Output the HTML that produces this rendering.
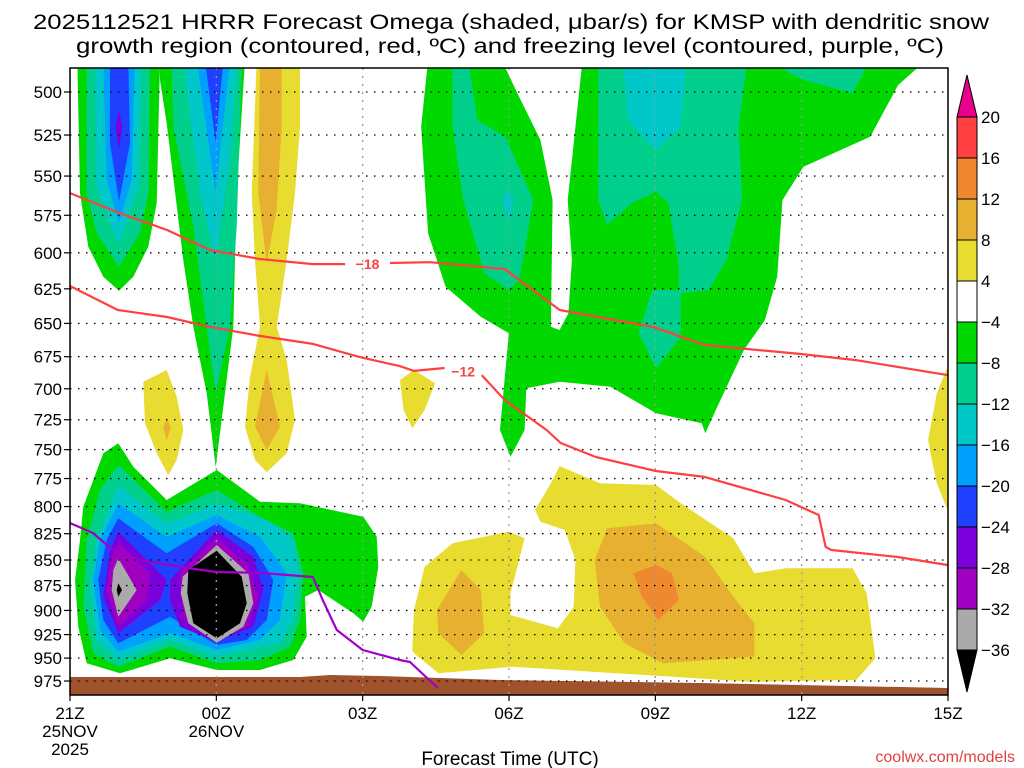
<!DOCTYPE html>
<html><head><meta charset="utf-8"><style>
html,body{margin:0;padding:0;background:#fff;}
svg{display:block;font-family:"Liberation Sans",sans-serif;}
</style></head><body>
<svg id="chart" width="1024" height="768" viewBox="0 0 1024 768" xmlns="http://www.w3.org/2000/svg">
<defs><clipPath id="plotclip"><rect x="70" y="68" width="878" height="627"/></clipPath></defs>
<g font-size="21" fill="#000">
<text x="511" y="29" text-anchor="middle" textLength="956" lengthAdjust="spacingAndGlyphs">2025112521 HRRR Forecast Omega (shaded, μbar/s) for KMSP with dendritic snow</text>
<text x="510" y="53" text-anchor="middle" textLength="868" lengthAdjust="spacingAndGlyphs">growth region (contoured, red, ºC) and freezing level (contoured, purple, ºC)</text>
</g>
<g id="fills" clip-path="url(#plotclip)"></g>
<g id="grid"></g>
<g id="lines" clip-path="url(#plotclip)"></g>
<rect x="70" y="68" width="878" height="627" fill="none" stroke="#000" stroke-width="1.5"/>
<g id="yaxis" font-size="17"></g>
<g id="xaxis" font-size="17"></g>
<text x="510" y="765" text-anchor="middle" font-size="19">Forecast Time (UTC)</text>
<text x="1015" y="762" text-anchor="end" font-size="16" fill="#e04040">coolwx.com/models</text>
<g id="cbar" font-size="17"></g>
</svg>
<script>
// ---- data ----
const pressureTicks=[500,525,550,575,600,625,650,675,700,725,750,775,800,825,850,875,900,925,950,975];
const timeTickHours=[0,3,6,9,12,15,18];
const timeTickLabels=["21Z","00Z","03Z","06Z","09Z","12Z","15Z"];
const cbarLevels=["20","16","12","8","4","−4","−8","−12","−16","−20","−24","−28","−32","−36"];
const cbarColors=["#ff4040","#f08830","#e8b030","#e8dc30","#ffffff","#00d800","#00d08c","#00c8c8","#00a0ff","#2040ff","#7a00dc","#a000c0","#aaaaaa"];
// -18C isotherm (hours from 21Z, hPa)
const upperHours=[0,0.96,1.99,2.87,3.89,4.98,5.64];
const upperPres=[560.7,572.9,584.7,598.1,604.2,607.7,607.7];
const upperHours2=[6.56,7.38,8.91,10.04,11.95,13.01,14.96,16.11,17.99];
const upperPres2=[607.0,606.4,611.1,640.2,652.6,666.1,672.9,677.6,689.2];
// -12C isotherm
const lowerHours=[0,0.98,1.99,2.87,3.89,4.98,5.94,6.76,7.05,7.68];
const lowerPres=[623.0,640.2,645.3,652.6,659.3,665.3,675.3,682.2,686.0,683.7];
const lowerHours2=[8.44,8.91,9.77,10.06,10.78,12.01,13.01,14.67,15.35,15.49,15.61,16.97,17.99];
const lowerPres2=[689.2,708.9,733.5,744.4,756.3,768.4,773.6,794.1,807.7,837.5,840.4,847.1,854.8];
// freezing level
const frzHours=[0,0.47,0.88,1.43,2.40,3.01,3.89,4.98,5.18,5.47,6.0,6.76,6.97,7.54];
const frzPres=[815.1,824.4,840.4,849.9,857.7,861.6,862.4,866.5,889.4,920.2,941.3,952.0,954.2,982.8];

// ---- axes ----
const X=h=>70+h*878/18;
const Y=p=>92+882*Math.log(p/500);
const NS="http://www.w3.org/2000/svg";
function mk(tag,attrs,parent){const e=document.createElementNS(NS,tag);for(const k in attrs)e.setAttribute(k,attrs[k]);parent.appendChild(e);return e;}

// ---- shading polygons (screen-space contour fills) ----
const fills=document.getElementById('fills');
const Z3=p=>[60+p[0]/3,60+p[1]/3];
const Z4=p=>[400+p[0]/2.85,60+p[1]/3];
const Z5=p=>[400+p[0]/2.85,450+p[1]/3];
function poly(pts,conv,color,name){
  const s=pts.map(p=>conv(p).map(v=>v.toFixed(1)).join(',')).join(' ');
  const e=mk('polygon',{points:s,fill:color},fills);
  
  
}
const G="#00d800",TG="#00d08c",T="#00c8c8",LB="#00a0ff",B="#2040ff",V="#7a00dc",P="#a000c0",GR="#aaaaaa",K="#000",YL="#e8dc30",OR="#e8b030",RO="#f08830";
// top-left column
poly([[52,0],[300,0],[290,430],[265,560],[220,650],[177,692],[130,650],[85,560],[60,400]],Z3,G,'omega-upper-left-green');
poly([[80,0],[270,0],[265,400],[240,520],[177,620],[110,520],[80,400]],Z3,TG,'omega-upper-left-tealgreen');
poly([[105,0],[245,0],[235,380],[177,555],[110,380]],Z3,T,'omega-upper-left-teal');
poly([[130,0],[225,0],[215,360],[177,490],[140,360]],Z3,LB,'omega-upper-left-lightblue');
poly([[150,0],[205,0],[210,250],[177,425],[150,250]],Z3,B,'omega-upper-left-blue');
poly([[177,150],[187,200],[177,270],[167,200]],Z3,V,'omega-upper-left-violet');
// 00Z column
poly([[298,0],[555,0],[530,400],[520,800],[467,1222],[440,1000],[400,800],[370,600],[320,190],[300,60]],Z3,G,'omega-00z-green');
poly([[335,0],[545,0],[530,500],[510,800],[467,1000],[440,800],[400,500],[340,200]],Z3,TG,'omega-00z-tealgreen');
poly([[370,0],[530,0],[510,300],[467,600],[420,400]],Z3,T,'omega-00z-teal');
poly([[410,0],[510,0],[467,400]],Z3,LB,'omega-00z-lightblue');
poly([[435,0],[490,0],[467,250]],Z3,B,'omega-00z-blue');
// 01Z positive column
poly([[590,0],[720,0],[720,200],[705,400],[680,600],[650,800],[680,900],[705,1080],[680,1180],[620,1237],[585,1200],[555,1100],[570,950],[600,800],[585,600],[575,400]],Z3,YL,'omega-01z-yellow');
poly([[600,0],[665,0],[665,200],[650,450],[620,610],[595,400]],Z3,OR,'omega-01z-orange-upper');
poly([[620,930],[660,1100],[620,1170],[585,1100]],Z3,OR,'omega-01z-orange-lower');
poly([[250,965],[320,930],[350,1010],[370,1110],[350,1200],[325,1245],[290,1180],[255,1090]],Z3,YL,'omega-2230z-yellow');
poly([[320,1070],[332,1105],[320,1140],[310,1105]],Z3,OR,'omega-2230z-orange');
// bottom-left intense cluster (zoom offset 60,440)
const Z2=p=>[60+p[0]/3,440+p[1]/3];
poly([[60,300],[70,200],[130,40],[175,10],[220,80],[320,180],[470,90],[600,185],[720,190],[910,230],[950,290],[955,380],[935,500],[910,545],[880,520],[775,450],[735,470],[740,590],[700,660],[600,690],[470,690],[330,655],[180,700],[80,670],[55,560],[45,420]],Z2,G,'omega-lowlevel-green');
poly([[80,300],[120,150],[175,75],[320,215],[470,150],[600,230],[700,280],[730,400],[720,540],[690,620],[600,660],[470,670],[330,620],[175,680],[100,640],[70,500]],Z2,TG,'omega-lowlevel-tealgreen');
poly([[110,300],[175,135],[320,250],[470,190],[620,240],[700,300],[715,400],[700,540],[660,610],[470,650],[330,600],[175,660],[110,600],[90,450]],Z2,T,'omega-lowlevel-teal');
poly([[120,300],[175,190],[320,290],[470,225],[600,290],[680,400],[660,540],[600,600],[470,630],[330,580],[175,635],[120,570],[100,420]],Z2,LB,'omega-lowlevel-lightblue');
poly([[140,300],[175,235],[320,340],[470,250],[580,320],[640,420],[620,540],[560,600],[470,615],[330,530],[175,610],[130,540],[115,420]],Z2,B,'omega-lowlevel-blue');
poly([[150,330],[175,275],[320,420],[300,480],[175,580],[130,470]],Z2,V,'omega-left-violet');
poly([[330,420],[470,270],[580,350],[610,450],[580,560],[470,605],[360,560],[330,480]],Z2,V,'omega-right-violet');
poly([[155,350],[175,310],[270,400],[260,480],[175,560],[140,450]],Z2,P,'omega-left-purple');
poly([[360,400],[470,295],[560,370],[595,470],[560,560],[470,600],[370,540]],Z2,P,'omega-right-purple');
poly([[160,390],[175,355],[230,450],[175,530],[155,450]],Z2,GR,'omega-left-gray');
poly([[368,410],[470,315],[565,400],[580,490],[550,560],[470,608],[385,550],[362,460]],Z2,GR,'omega-right-gray');
poly([[175,430],[186,450],[175,470],[170,450]],Z2,K,'omega-left-black');
poly([[385,390],[470,332],[545,410],[560,490],[540,550],[470,595],[400,550],[382,460]],Z2,K,'omega-right-black');
// mid/upper green region around 03Z-12Z
poly([[80,30],[290,30],[330,90],[400,240],[435,420],[430,800],[455,810],[480,760],[490,600],[478,420],[520,30],[1500,30],[1420,75],[1340,230],[1150,320],[1090,420],[1075,650],[1040,780],[980,870],[900,1050],[870,1120],[860,1090],[730,1060],[600,980],[455,965],[360,985],[355,1110],[315,1190],[285,1110],[310,820],[230,770],[130,680],[80,520],[60,200]].map(p=>p[1]===30?[p[0],0]:p),Z4,G,'omega-mid-green');
poly([[150,0],[195,0],[220,180],[300,230],[380,420],[340,660],[310,690],[240,640],[180,420],[150,200]],Z4,TG,'omega-mid-tealgreen-a');
poly([[565,0],[990,0],[965,200],[975,420],[930,600],[880,690],[800,700],[800,830],[730,925],[680,820],[720,690],[795,690],[795,620],[765,430],[730,395],[660,430],[590,495],[565,420]],Z4,TG,'omega-mid-tealgreen-b');
poly([[1040,0],[1340,0],[1290,100],[1150,60]],Z4,TG,'omega-mid-tealgreen-c');
poly([[635,0],[815,0],[800,200],[730,270],[650,180]],Z4,T,'omega-mid-teal');
poly([[290,420],[310,390],[325,420],[310,480]],Z4,T,'omega-mid-teal-small');
poly([[0,960],[40,930],[100,970],[70,1050],[35,1105],[10,1050]],Z4,YL,'omega-04z-yellow');
poly([[1568,900],[1568,1300],[1530,1260],[1505,1140],[1530,1000]],Z4,YL,'omega-15z-yellow-a');
poly([[1568,0],[1568,200],[1530,100],[1510,0]],Z5,YL,'omega-15z-yellow-b');
// low-level positive omega
poly([[35,600],[40,480],[70,350],[150,280],[310,245],[355,265],[315,430],[315,495],[450,535],[495,470],[500,330],[470,240],[400,215],[385,180],[430,100],[455,48],[570,100],[730,105],[800,160],[950,265],[1010,370],[1100,355],[1290,355],[1330,430],[1355,625],[1300,690],[1000,695],[320,650],[110,670],[40,610]],Z5,YL,'omega-lowlevel-yellow');
poly([[175,360],[230,420],[240,550],[175,615],[110,550],[105,480]],Z5,OR,'omega-05z-orange');
poly([[590,235],[730,220],[870,320],[950,440],[1010,520],[1010,620],[750,640],[640,580],[570,470],[555,330]],Z5,OR,'omega-09z-orange');
poly([[665,370],[730,345],[775,370],[795,450],[735,510],[690,440]],Z5,RO,'omega-09z-redorange');
// terrain
(function(){const e=mk('polygon',{points:"70,677 300,677 330,675 380,676 500,680 700,683 948,688 948,695 70,695",fill:"#a0522d"},fills);

})();

// ---- grid & axes ----
const grid=document.getElementById('grid'),ya=document.getElementById('yaxis'),xa=document.getElementById('xaxis');
pressureTicks.forEach(p=>{
  const y=Y(p);
  const l=mk('line',{x1:70,x2:948,y1:y,y2:y,stroke:"#000","stroke-width":1.3,"stroke-dasharray":"1.5 6.5"},grid);
  
  
  const t=mk('line',{x1:64,x2:70,y1:y,y2:y,stroke:"#000","stroke-width":1.2},ya);
  
  
  const tx=mk('text',{x:62,y:y+6,"text-anchor":"end"},ya);tx.textContent=p;
  
  
});
timeTickHours.forEach((h,i)=>{
  const x=X(h);
  if(i>0&&i<timeTickHours.length-1){const l=mk('line',{x1:x,x2:x,y1:68,y2:695,stroke:"#999","stroke-width":1.3,"stroke-dasharray":"2 6"},grid);
  
  }
  const t=mk('line',{x1:x,x2:x,y1:695,y2:701,stroke:"#000","stroke-width":1.2},xa);
  
  
  const tx=mk('text',{x:x,y:719,"text-anchor":"middle"},xa);tx.textContent=timeTickLabels[i];
  
  
});
[["25NOV",X(0),737],["2025",X(0),755],["26NOV",X(3),737]].forEach(d=>{
  const tx=mk('text',{x:d[1],y:d[2],"text-anchor":"middle"},xa);tx.textContent=d[0];
  
  
});

// ---- contour lines ----
const lines=document.getElementById('lines');
function pl(hs,ps,color,name){
  const e=mk('polyline',{points:hs.map((h,i)=>X(h).toFixed(1)+','+Y(ps[i]).toFixed(1)).join(' '),fill:"none",stroke:color,"stroke-width":2.2,"stroke-linejoin":"round"},lines);
  
  
}
pl(upperHours,upperPres,"#ff4040",'isotherm-minus18');
pl(upperHours2,upperPres2,"#ff4040",'isotherm-minus18-b');
pl(lowerHours,lowerPres,"#ff4040",'isotherm-minus12');
pl(lowerHours2,lowerPres2,"#ff4040",'isotherm-minus12-b');
pl(frzHours,frzPres,"#a000c8",'freezing-level');
[["−18",(upperHours[6]+upperHours2[0])/2,upperPres[6]],["−12",(lowerHours[9]+lowerHours2[0])/2,(lowerPres[9]+lowerPres2[0])/2]].forEach(d=>{
  const t=mk('text',{x:X(d[1]),y:Y(d[2])+5,"text-anchor":"middle","font-size":14,"font-weight":"bold",fill:"#ff4040"},lines);
  t.textContent=d[0];
  
  
});

// ---- colorbar ----
const cb=document.getElementById('cbar');
const cx0=957,cx1=977,cy0=117,cstep=41;
(function(){const t=mk('polygon',{points:`${cx0},${cy0} ${cx1},${cy0} ${(cx0+cx1)/2},${cy0-42}`,fill:"#e8008c",stroke:"#000","stroke-width":1},cb);


const b=mk('polygon',{points:`${cx0},${cy0+13*cstep} ${cx1},${cy0+13*cstep} ${(cx0+cx1)/2},${cy0+13*cstep+42}`,fill:"#000",stroke:"#000","stroke-width":1},cb);

})();
cbarColors.forEach((c,i)=>{
  const r=mk('rect',{x:cx0,y:cy0+i*cstep,width:cx1-cx0,height:cstep,fill:c,stroke:"#000","stroke-width":1},cb);
  
  
});
cbarLevels.forEach((s,i)=>{
  const t=mk('text',{x:981,y:cy0+i*cstep+6},cb);t.textContent=s;
  
  
});
</script>
</body></html>
